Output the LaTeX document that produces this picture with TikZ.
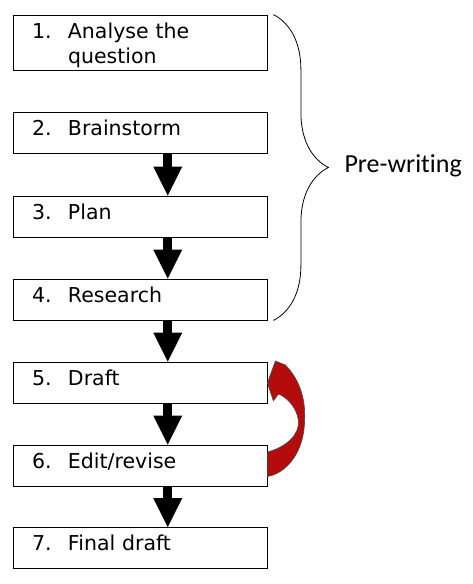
\documentclass[tikz,border=0pt]{standalone}
\usepackage{fontspec}
\setmainfont{DejaVu Sans}
\newfontfamily\prefont[Ligatures=NoCommon]{Carlito}
\usetikzlibrary{arrows.meta,decorations.pathreplacing}
\definecolor{arrowred}{RGB}{180,12,12}
\tikzset{
	stepbox/.style={draw,line width=0.8pt,minimum width=253.5pt,text width=216.5pt,
		inner xsep=18.5pt,inner ysep=8pt,text height=15pt,text depth=10pt,align=left,
		font=\fontsize{20.5}{25}\selectfont},
	flow/.style={line width=9pt,-{Triangle[width=29pt,length=29pt,line width=0pt]}}
}
\newcommand{\stepno}[2]{\makebox[36pt][l]{#1}#2}
\begin{document}
\begin{tikzpicture}[x=1pt,y=-1pt]
	\useasboundingbox (0,0) rectangle (473,584);
	\node[stepbox,text depth=24pt] (b1) at (140.25,42.5) {\stepno{1.}{Analyse the}\\\hspace*{36pt}question};
	\node[stepbox] (b2) at (140.25,133) {\stepno{2.}{Brainstorm}};
	\node[stepbox] (b3) at (140.25,216.5) {\stepno{3.}{Plan}};
	\node[stepbox] (b4) at (140.25,299.5) {\stepno{4.}{Research}};
	\node[stepbox] (b5) at (140.25,382.5) {\stepno{5.}{Draft}};
	\node[stepbox] (b6) at (140.25,465.5) {\stepno{6.}{Edit/revise}};
	\node[stepbox] (b7) at (140.25,548) {\stepno{7.}{Final draft}};
	\foreach \a/\b in {b2/b3,b3/b4,b4/b5,b5/b6,b6/b7}
		\draw[flow] ([xshift=27.5pt]\a.south) -- ([xshift=27.5pt]\b.north);
	\draw[line width=0.8pt,decorate,decoration={brace,amplitude=55pt}]
		([xshift=6pt]b1.north east) -- ([xshift=6pt]b4.south east);
	\node[anchor=west,font=\prefont\fontsize{26}{30}\selectfont] (pw) at (341,166) {Pre-writing};
	% curved arrow back from Edit/revise to Draft
	\begin{scope}[shift={(b5.east)}]
		\draw[fill=arrowred,draw=black!70,line width=0.6pt,line join=round]
			(0,69.5) .. controls (18,65) and (33,52) .. (31,37.5)
			.. controls (29,25) and (20,15) .. (11,11.5)
			-- (6,18.5) -- (0,0.5) -- (8,-21.5) -- (18,-17.5)
			.. controls (33,-2) and (39,18) .. (37,42.5)
			.. controls (35,72) and (18,91) .. (0,94) -- cycle;
	\end{scope}
\end{tikzpicture}
\end{document}
